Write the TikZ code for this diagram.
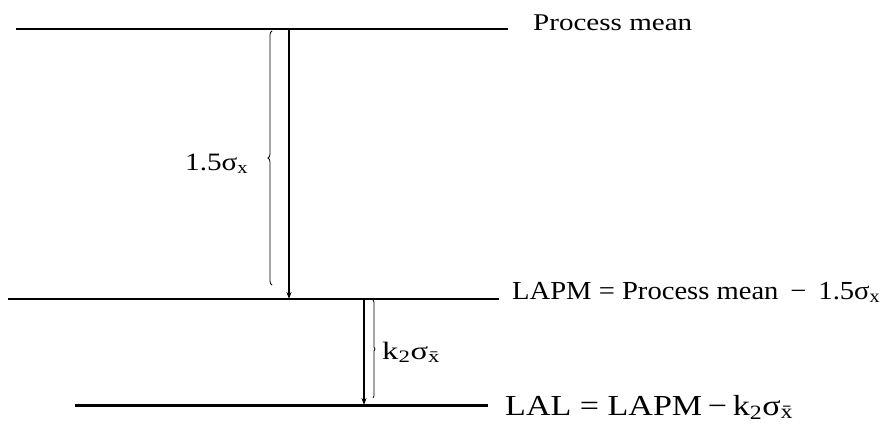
\documentclass[tikz,border=0pt]{standalone}
\usepackage{fontspec}
\setmainfont{Liberation Serif}
\usepackage{graphicx}
\usetikzlibrary{arrows.meta,decorations.pathreplacing}
\newcommand\wbox[2]{\resizebox{#1}{\height}{#2}}
\begin{document}
\begin{tikzpicture}[x=1pt,y=-1pt,
  level/.style={line width=1.3pt},
  lvlthick/.style={line width=3pt},
  arr/.style={line width=1.2pt,-{Stealth[length=7pt,width=5pt]}},
  lbl/.style={inner sep=0pt,anchor=base west},
  brc/.style={decorate,decoration={brace,amplitude=4pt},line width=0.8pt}]
\useasboundingbox (0,0) rectangle (883,428);
\coordinate (t1) at (16,29); \coordinate (t2) at (508,29);
\coordinate (m1) at (8,299); \coordinate (m2) at (499,299);
\coordinate (b1) at (75,405); \coordinate (b2) at (488,405);
\draw[level] (t1) -- (t2);
\draw[level] (m1) -- (m2);
\draw[lvlthick] (b1) -- (b2);
% long arrow
\coordinate (a1) at (289,29); \coordinate (a2) at (289,299);
\draw[arr] (a1) -- (a2);
\coordinate (br1) at (272,285); \coordinate (br2) at (272,31);
\draw[brc] (br1) -- (br2);
% short arrow
\coordinate (s1) at (364,299); \coordinate (s2) at (364,405);
\draw[arr] (s1) -- (s2);
\coordinate (sb1) at (373,300); \coordinate (sb2) at (373,398);
\draw[brc,decoration={brace,amplitude=2pt}] (sb1) -- (sb2);
% labels
\node[lbl] (pm) at (533,31) {\fontsize{24}{27}\selectfont\wbox{159pt}{Process mean}};
\node[lbl] (lapm) at (512,299) {\fontsize{26}{29}\selectfont\wbox{368pt}{LAPM = Process mean \,−\, 1.5σ\textsubscript{x}}};
\node[lbl] (lal) at (505,415) {\fontsize{29}{32}\selectfont\wbox{288pt}{LAL = LAPM\,−\,k\textsubscript{2}σ\textsubscript{\=x}}};
\node[lbl] (l1) at (185,170) {\fontsize{25}{28}\selectfont\wbox{63pt}{1.5σ\textsubscript{x}}};
\node[lbl] (l2) at (382,359) {\fontsize{25}{28}\selectfont\wbox{58pt}{k\textsubscript{2}σ\textsubscript{\=x}}};
\end{tikzpicture}
\end{document}
